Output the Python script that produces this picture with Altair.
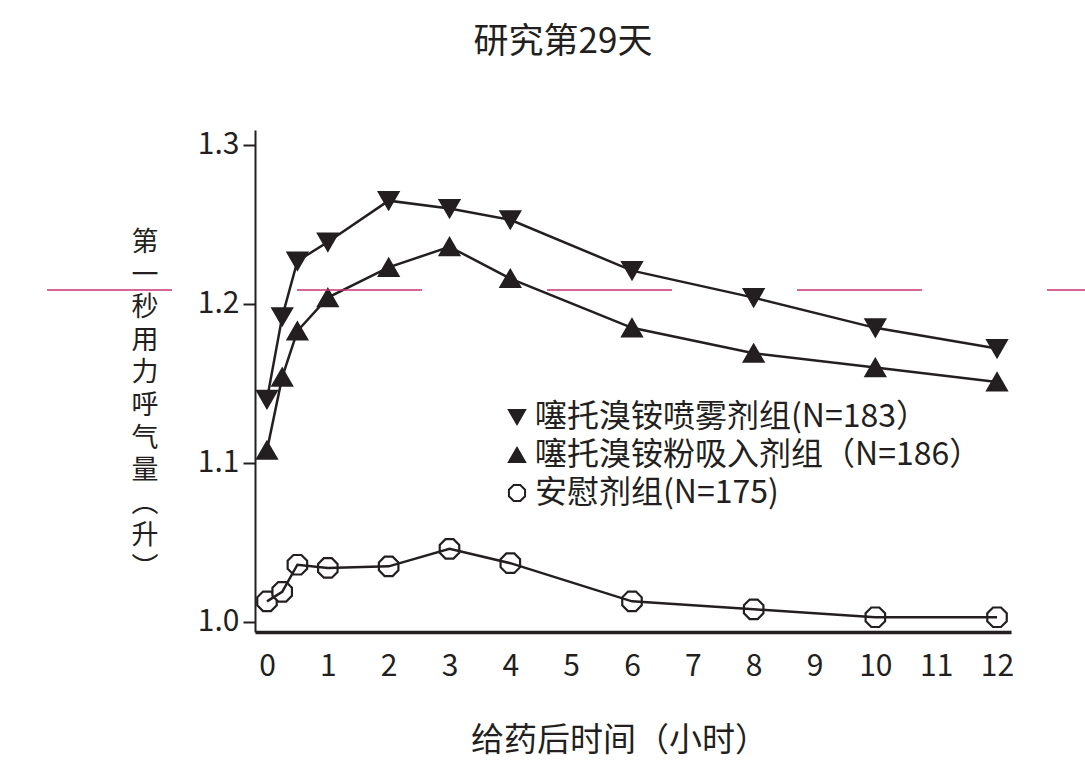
import altair as alt
import pandas as pd

FONT = "Noto Sans CJK SC"
INK = "#231f20"

hours = [0, 0.25, 0.5, 1, 2, 3, 4, 6, 8, 10, 12]
groups = ["噻托溴铵喷雾剂组(N=183）", "噻托溴铵粉吸入剂组（N=186）", "安慰剂组(N=175)"]
spray = [1.140, 1.192, 1.227, 1.239, 1.265, 1.260, 1.253, 1.221, 1.204, 1.185, 1.172]
powder = [1.108, 1.154, 1.183, 1.204, 1.223, 1.236, 1.216, 1.185, 1.169, 1.160, 1.151]
placebo = [1.013, 1.019, 1.036, 1.034, 1.035, 1.046, 1.037, 1.013, 1.008, 1.003, 1.003]
x_ticks = list(range(0, 13))
y_ticks = [1.0, 1.1, 1.2, 1.3]
y_title = "第\n一\n秒\n用\n力\n呼\n气\n量\n︵\n升\n︶"

rows = []
for g, vals in zip(groups, [spray, powder, placebo]):
    for h, v in zip(hours, vals):
        rows.append({"group": g, "hour": h, "fev1": v})
df = pd.DataFrame(rows)

octagon = "M-0.41,-1L0.41,-1L1,-0.41L1,0.41L0.41,1L-0.41,1L-1,0.41L-1,-0.41Z"

x_enc = alt.X("hour:Q",
              scale=alt.Scale(domain=[-0.197, 12.23], nice=False, zero=False),
              axis=alt.Axis(values=x_ticks, format="d", title="给药后时间（小时）",
                            ticks=False, grid=False, labelFontSize=30, labelPadding=19,
                            labelColor=INK, labelFont=FONT, domainColor=INK, domainWidth=3.5,
                            titleFontSize=33, titleFont=FONT, titleFontWeight="normal",
                            titleColor=INK, titleX=364, titleY=92, titleAlign="center",
                            labelFlush=False))
y_enc = alt.Y("fev1:Q",
              scale=alt.Scale(domain=[0.99371, 1.30943], nice=False, zero=False),
              axis=alt.Axis(values=y_ticks, format=".1f", title=None, grid=False,
                            tickSize=12, tickWidth=2, tickColor=INK, domainColor=INK,
                            domainWidth=2, labelFontSize=30, labelPadding=4,
                            labelColor=INK, labelFont=FONT))

base = alt.Chart(df)

legend = alt.Legend(title=None, orient="none", legendX=246, legendY=271,
                    labelFontSize=32, labelFont=FONT, labelColor=INK,
                    symbolSize=260, symbolStrokeColor=INK, symbolOpacity=1,
                    symbolStrokeWidth=2, rowPadding=6, labelOffset=2,
                    labelLimit=700)

points = base.mark_point(opacity=1, strokeWidth=2.2, size=380, filled=True).encode(
    x=x_enc, y=y_enc,
    shape=alt.Shape("group:N",
                    scale=alt.Scale(domain=groups, range=["triangle-down", "triangle-up", octagon]),
                    legend=legend),
    fill=alt.Fill("group:N",
                  scale=alt.Scale(domain=groups, range=[INK, INK, "white"]),
                  legend=legend),
    stroke=alt.Stroke("group:N",
                      scale=alt.Scale(domain=groups, range=[INK, INK, INK]),
                      legend=legend),
)

lines = base.mark_line(color=INK, strokeWidth=2.5).encode(
    x="hour:Q", y="fev1:Q", detail="group:N")

ytitle = alt.Chart(pd.DataFrame({"t": [y_title]})).mark_text(
    font=FONT, fontSize=27, lineHeight=32.6, color=INK, baseline="top", align="center",
    lineBreak="\n").encode(x=alt.value(-110), y=alt.value(100), text="t:N")

guide = alt.Chart(pd.DataFrame({"a": [0]})).mark_rule(
    color="#cc3377", strokeWidth=1.5, strokeDash=[125, 125]).encode(
    x=alt.value(-208), x2=alt.value(830), y=alt.value(160))

chart = alt.layer(points, lines, ytitle, guide).properties(
    width=756, height=502,
    background="white",
    title=alt.TitleParams("研究第29天", font=FONT, fontSize=35, fontWeight="normal",
                          color=INK, anchor="middle", dx=-70, offset=70),
    autosize=alt.AutoSizeParams(type="none"),
    padding={"left": 255, "top": 130, "right": 74, "bottom": 137},
).configure_view(stroke=None)

chart.save("out.html", embed_options={"renderer": "svg", "actions": False})
